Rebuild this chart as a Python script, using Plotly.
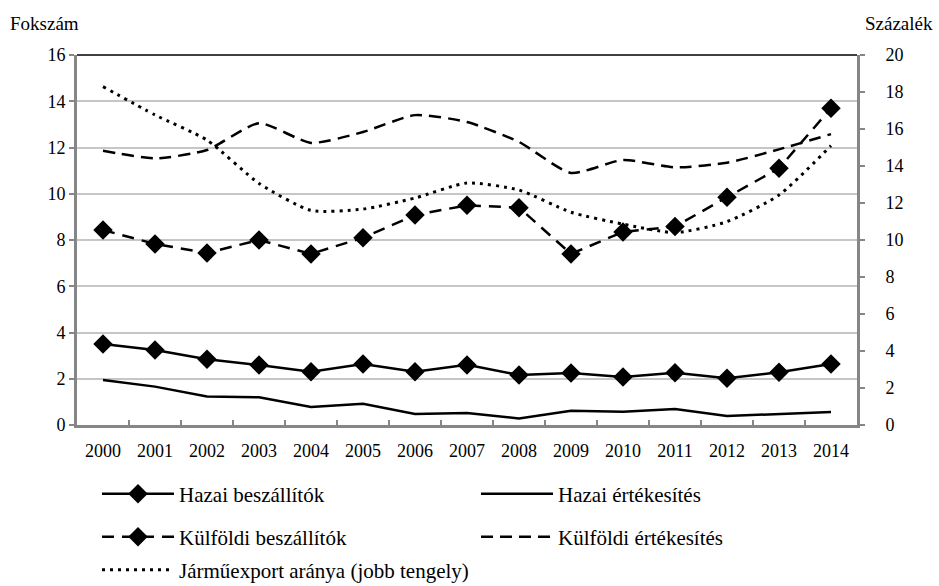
import plotly.graph_objects as go

years = [str(y) for y in range(2000, 2015)]

hazai_beszallitok = [3.50, 3.24, 2.84, 2.59, 2.30, 2.64, 2.30, 2.60, 2.16, 2.25, 2.08, 2.26, 2.02, 2.28, 2.64]
hazai_ertekesites = [1.95, 1.66, 1.23, 1.20, 0.78, 0.92, 0.48, 0.52, 0.28, 0.62, 0.57, 0.69, 0.39, 0.47, 0.56]
kulfoldi_beszallitok = [8.43, 7.83, 7.44, 8.00, 7.40, 8.10, 9.08, 9.50, 9.40, 7.40, 8.35, 8.58, 9.85, 11.10, 13.70]
kulfoldi_ertekesites = [11.86, 11.53, 11.89, 13.05, 12.20, 12.67, 13.40, 13.10, 12.24, 10.90, 11.46, 11.14, 11.34, 11.92, 12.58]
jarmuexport_arany = [18.29, 16.76, 15.40, 13.06, 11.60, 11.67, 12.27, 13.08, 12.70, 11.50, 10.86, 10.40, 10.99, 12.43, 15.10]

left_ticks = list(range(0, 17, 2))
right_ticks = list(range(0, 21, 2))

FONT = "Liberation Serif"
AXIS_GRAY = "#868686"

fig = go.Figure()

fig.add_trace(go.Scatter(
    x=years, y=hazai_beszallitok, name="Hazai beszállítók",
    mode="lines+markers", line=dict(color="black", width=2.5),
    marker=dict(symbol="diamond", size=15, color="black"),
    legend="legend",
))
fig.add_trace(go.Scatter(
    x=years, y=hazai_ertekesites, name="Hazai értékesítés",
    mode="lines", line=dict(color="black", width=2.5),
    legend="legend",
))
fig.add_trace(go.Scatter(
    x=years, y=kulfoldi_beszallitok, name="Külföldi beszállítók",
    mode="lines+markers", line=dict(color="black", width=2.5, dash="12px,8px"),
    marker=dict(symbol="diamond", size=15, color="black"),
    legend="legend2",
))
fig.add_trace(go.Scatter(
    x=years, y=kulfoldi_ertekesites, name="Külföldi értékesítés",
    mode="lines", line=dict(color="black", width=2.5, dash="12px,7px", shape="spline", smoothing=0.6),
    legend="legend2",
))
fig.add_trace(go.Scatter(
    x=years, y=jarmuexport_arany, name="Járműexport aránya (jobb tengely)",
    mode="lines", line=dict(color="black", width=3, dash="3px,5px", shape="spline", smoothing=0.6),
    yaxis="y2", legend="legend3",
))

legend_common = dict(
    orientation="h", xanchor="left", yanchor="middle",
    xref="container", yref="container", x=97 / 939,
    font=dict(family=FONT, size=21, color="black"),
    entrywidth=292, entrywidthmode="pixels", itemwidth=72,
    bgcolor="rgba(0,0,0,0)",
)

fig.update_layout(
    width=939, height=586,
    margin=dict(l=77, r=82, t=55, b=161, autoexpand=False),
    paper_bgcolor="white", plot_bgcolor="white",
    font=dict(family=FONT, size=18, color="black"),
    showlegend=True,
    xaxis=dict(
        type="category", range=[-0.5, 14.5],
        showline=True, linecolor=AXIS_GRAY, linewidth=3,
        ticks="inside", tickson="boundaries", ticklen=5, tickcolor=AXIS_GRAY, tickwidth=2,
        showgrid=False, tickfont=dict(family=FONT, size=18, color="black"),
        ticklabelstandoff=7,
    ),
    yaxis=dict(
        range=[0, 16], tickvals=left_ticks,
        showline=True, linecolor=AXIS_GRAY, linewidth=3,
        ticks="outside", ticklen=5, tickcolor=AXIS_GRAY, tickwidth=2,
        showgrid=True, gridcolor="#c6c6c6", gridwidth=1.5,
        zeroline=False, tickfont=dict(family=FONT, size=18, color="black"),
    ),
    yaxis2=dict(
        range=[0, 20], tickvals=right_ticks, overlaying="y", side="right",
        showline=True, linecolor=AXIS_GRAY, linewidth=3,
        ticks="outside", ticklen=5, tickcolor=AXIS_GRAY, tickwidth=2,
        showgrid=False, zeroline=False,
        tickfont=dict(family=FONT, size=18, color="black"),
        ticklabelstandoff=17,
    ),
    legend=dict(y=1 - 494 / 586, **legend_common),
    legend2=dict(y=1 - 537 / 586, **legend_common),
    legend3=dict(y=1 - 570 / 586, **legend_common),
    shapes=[dict(type="line", xref="paper", yref="paper", x0=0, x1=1, y0=1, y1=1,
                 line=dict(color="#404040", width=2))],
    annotations=[
        dict(text="Fokszám", xref="paper", yref="paper", x=-0.0885, y=1.05,
             xanchor="left", yanchor="bottom", showarrow=False,
             font=dict(family=FONT, size=19, color="black")),
        dict(text="Százalék", xref="paper", yref="paper", x=1.1, y=1.05,
             xanchor="right", yanchor="bottom", showarrow=False,
             font=dict(family=FONT, size=19, color="black")),
    ],
)

fig.write_html("out.html")
